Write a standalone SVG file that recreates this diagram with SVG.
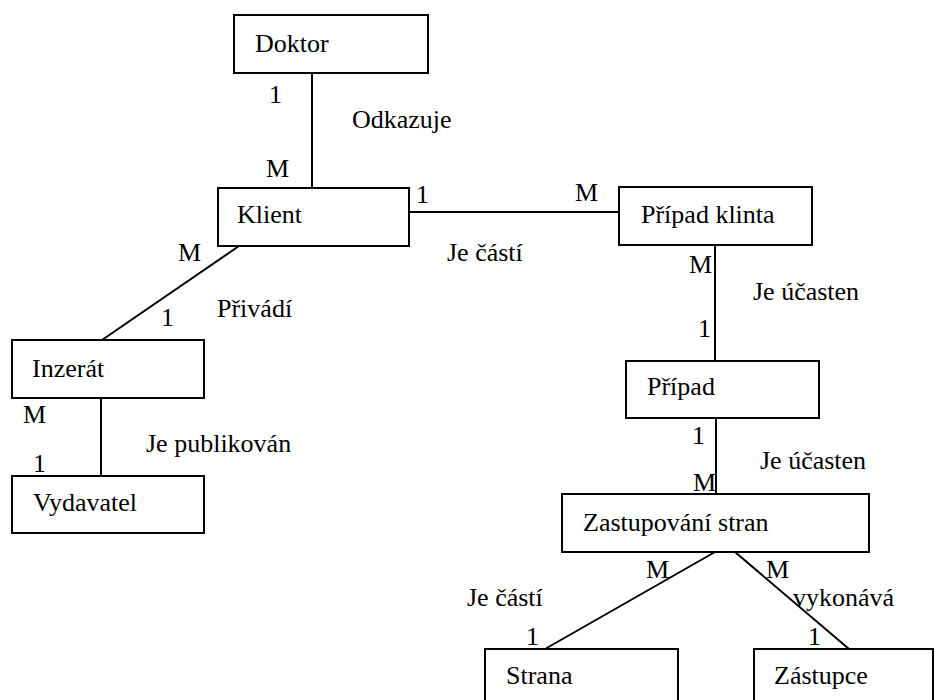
<svg xmlns="http://www.w3.org/2000/svg" width="935" height="700" viewBox="0 0 935 700">
  <style>
    .box { fill: #fff; stroke: #000; stroke-width: 2; }
    .edge { stroke: #000; stroke-width: 2; fill: none; }
    text { font-family: 'Liberation Serif', 'Times New Roman', Times, 'DejaVu Serif', 'Noto Serif', serif; font-size: 26px; fill: #000; }
  </style>
  <rect width="935" height="700" fill="#fff"/>

  <!-- relationships -->
  <g id="connectors">
    <line class="edge" x1="312" y1="73" x2="312" y2="188"/>
    <line class="edge" x1="409" y1="212" x2="619" y2="212"/>
    <line class="edge" x1="239" y1="246" x2="102" y2="340"/>
    <line class="edge" x1="101" y1="398" x2="101" y2="476"/>
    <line class="edge" x1="715" y1="245" x2="715" y2="361"/>
    <line class="edge" x1="716" y1="418" x2="716" y2="494"/>
    <line class="edge" x1="715" y1="552" x2="545" y2="649"/>
    <line class="edge" x1="735" y1="552" x2="849" y2="649"/>
  </g>

  <!-- relationship names and cardinalities -->
  <g id="labels" font-family="Liberation Serif, Times New Roman, serif">
    <text x="269" y="103">1</text>
    <text x="352" y="128">Odkazuje</text>
    <text x="266" y="177">M</text>

    <text x="416" y="203">1</text>
    <text x="575" y="201">M</text>
    <text x="447" y="261">Je částí</text>

    <text x="178" y="261">M</text>
    <text x="217" y="317">Přivádí</text>
    <text x="161" y="326">1</text>

    <text x="23" y="423">M</text>
    <text x="146" y="452">Je publikován</text>
    <text x="33" y="472">1</text>

    <text x="689" y="273">M</text>
    <text x="753" y="300">Je účasten</text>
    <text x="698" y="337">1</text>

    <text x="692" y="444">1</text>
    <text x="760" y="469">Je účasten</text>
    <text x="693" y="491">M</text>

    <text x="646" y="578">M</text>
    <text x="766" y="578">M</text>
    <text x="467" y="606">Je částí</text>
    <text x="793" y="606">vykonává</text>
    <text x="526" y="645">1</text>
    <text x="808" y="645">1</text>
  </g>

  <!-- entities -->
  <g id="doktor">
    <rect class="box" x="234" y="15" width="194" height="58"/>
    <text x="255" y="52">Doktor</text>
  </g>
  <g id="klient">
    <rect class="box" x="218" y="188" width="191" height="58"/>
    <text x="237" y="223">Klient</text>
  </g>
  <g id="pripad-klinta">
    <rect class="box" x="619" y="187" width="193" height="58"/>
    <text x="641" y="223">Případ klinta</text>
  </g>
  <g id="inzerat">
    <rect class="box" x="12" y="340" width="192" height="58"/>
    <text x="32" y="377">Inzerát</text>
  </g>
  <g id="vydavatel">
    <rect class="box" x="12" y="476" width="192" height="57"/>
    <text x="33" y="511">Vydavatel</text>
  </g>
  <g id="pripad">
    <rect class="box" x="626" y="361" width="193" height="57"/>
    <text x="647" y="395">Případ</text>
  </g>
  <g id="zastupovani-stran">
    <rect class="box" x="562" y="494" width="307" height="58"/>
    <text x="583" y="531">Zastupování stran</text>
  </g>
  <g id="strana">
    <rect class="box" x="485" y="649" width="193" height="80"/>
    <text x="506" y="684">Strana</text>
  </g>
  <g id="zastupce">
    <rect class="box" x="754" y="649" width="179" height="80"/>
    <text x="774" y="684">Zástupce</text>
  </g>
</svg>
